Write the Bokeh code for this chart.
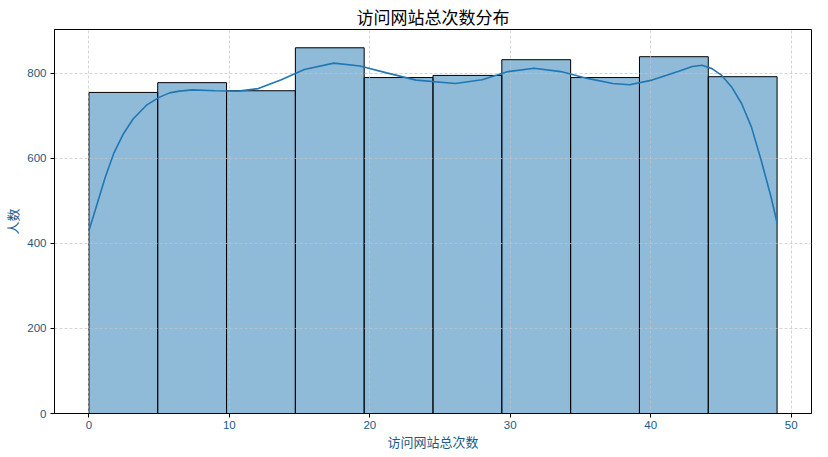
from bokeh.plotting import figure
from bokeh.models import ColumnDataSource, Range1d, FixedTicker
from bokeh.embed import file_html
from bokeh.resources import INLINE

# ---- data ----
bin_left = [0.0, 4.9, 9.8, 14.7, 19.6, 24.5, 29.4, 34.3, 39.2, 44.1]
bin_right = [4.9, 9.8, 14.7, 19.6, 24.5, 29.4, 34.3, 39.2, 44.1, 49.0]
counts = [755, 778, 759, 860, 790, 795, 832, 790, 839, 792]

kde_x = [0.0, 0.59, 1.17, 1.76, 2.46, 3.16, 4.10, 5.03, 5.74, 6.44, 7.37, 9.0,
         10.65, 12.06, 13.7, 15.34, 17.44, 19.3, 21.2, 23.3, 26.1, 28.0, 29.85,
         31.7, 33.6, 35.5, 37.3, 38.5, 40.1, 42.0, 42.96, 43.66, 44.36, 45.06,
         45.76, 46.47, 47.17, 47.87, 48.57, 49.0]
kde_y = [430, 493, 556, 611, 658, 693, 725, 744, 754, 758, 761, 759,
         758, 764, 785, 809, 824, 817, 801, 784, 776, 785, 804,
         812, 804, 788, 776, 773, 784, 805, 816, 819, 811, 795,
         768, 729, 674, 595, 509, 448]

x_ticks = [0, 10, 20, 30, 40, 50]
y_ticks = [0, 200, 400, 600, 800]

title_text = "访问网站总次数分布"
x_label = "访问网站总次数"
y_label = "人数"

FONT = "Noto Sans CJK SC"
NUM_FONT = "Liberation Sans"
LABEL_COLOR = "#1a5a85"

p = figure(width=812, height=453, output_backend="svg", toolbar_location=None,
           x_range=Range1d(-2.45, 51.45), y_range=Range1d(0, 903),
           min_border_left=45, min_border_right=1, min_border_top=21, min_border_bottom=36)

p.title.text = title_text
p.title.align = "center"
p.title.text_font = FONT
p.title.text_font_size = "17px"
p.title.text_font_style = "normal"
p.title.text_color = "black"
p.title.standoff = 2

bars = ColumnDataSource(dict(left=bin_left, right=bin_right, top=counts))
p.quad(left="left", right="right", bottom=0, top="top", source=bars,
       fill_color="#1f77b4", fill_alpha=0.5, line_color="black", line_width=1,
       level="image")

p.line(kde_x, kde_y, line_color="#1f77b4", line_width=1.6)

for ax in (p.xaxis[0], p.yaxis[0]):
    ax.axis_line_color = "black"
    ax.major_tick_line_color = "black"
    ax.major_tick_out = 4
    ax.major_tick_in = 0
    ax.minor_tick_line_color = None
    ax.major_label_text_font = NUM_FONT
    ax.major_label_text_font_size = "11.5px"
    ax.major_label_text_color = LABEL_COLOR
    ax.axis_label_text_font = FONT
    ax.axis_label_text_font_size = "13px"
    ax.axis_label_text_font_style = "normal"
    ax.axis_label_text_color = LABEL_COLOR

p.xaxis[0].major_label_standoff = 3
p.xaxis[0].axis_label_standoff = 0
p.yaxis[0].major_label_standoff = 4
p.yaxis[0].axis_label_standoff = 2

p.xaxis[0].ticker = FixedTicker(ticks=x_ticks)
p.yaxis[0].ticker = FixedTicker(ticks=y_ticks)
p.xaxis[0].axis_label = x_label
p.yaxis[0].axis_label = y_label

p.xgrid[0].ticker = FixedTicker(ticks=x_ticks)
p.ygrid[0].ticker = FixedTicker(ticks=y_ticks)
for g in (p.xgrid[0], p.ygrid[0]):
    g.grid_line_color = "#c4c4c4"
    g.grid_line_width = 0.7
    g.grid_line_dash = "3 2"
    g.level = "underlay"

p.outline_line_color = "black"
p.outline_line_width = 1
p.background_fill_color = "white"
p.border_fill_color = "white"

open("out.html", "w").write(file_html(p, INLINE))
